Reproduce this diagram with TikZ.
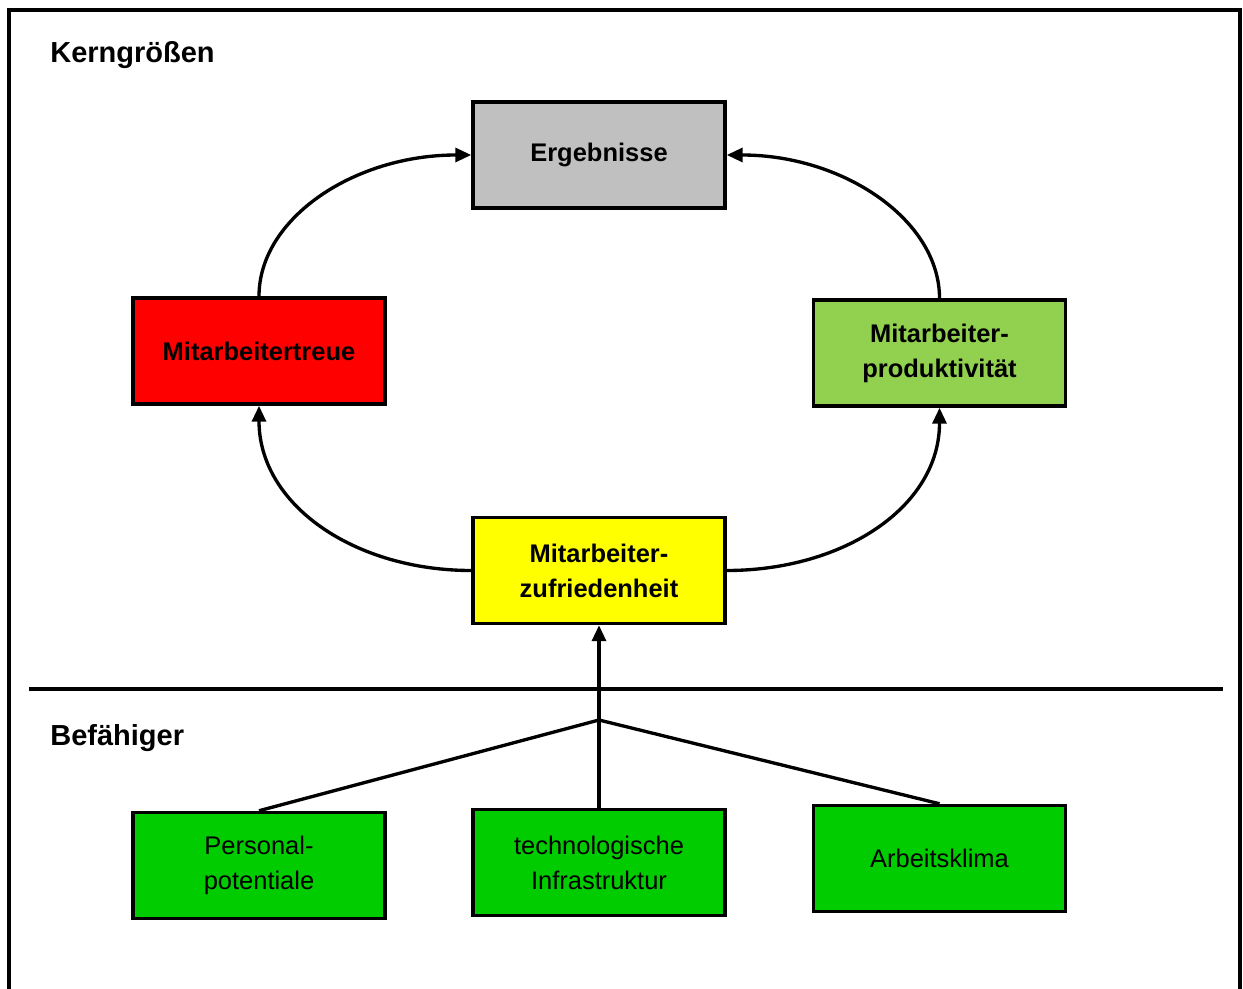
\documentclass[tikz,border=0pt]{standalone}
\usepackage{fontspec}
\setmainfont{Liberation Sans}
\usetikzlibrary{arrows.meta}
\definecolor{grayfill}{HTML}{C0C0C0}
\definecolor{redfill}{HTML}{FF0000}
\definecolor{lgreen}{HTML}{92D050}
\definecolor{yellowfill}{HTML}{FFFF00}
\definecolor{dgreen}{HTML}{00CC00}
\begin{document}
\begin{tikzpicture}[x=0.02cm,y=-0.02cm,
  box/.style={draw=black,line width=2pt,minimum width=5.04cm,minimum height=2.12cm,align=center,inner sep=0pt},
  core/.style={box,font=\fontsize{14.5}{20}\selectfont\bfseries},
  enab/.style={box,fill=dgreen,font=\fontsize{14.5}{20}\selectfont},
  head/.style={anchor=base west,font=\fontsize{16.5}{20}\selectfont\bfseries,inner sep=0pt},
  conn/.style={line width=1.9pt},
  arr/.style={conn,-{Triangle[length=3.2mm,width=2.8mm]}}]
\useasboundingbox (0,0) rectangle (1243,989);
\draw[line width=2pt] (9,10) rectangle (1240,1010);
\node[head] (kg) at (50,63) {Kerngrößen};
\node[head] (bf) at (50,745) {Befähiger};
\node[core,fill=grayfill] (erg) at (599,155) {Ergebnisse};
\node[core,fill=redfill] (treue) at (259,351) {Mitarbeitertreue};
\node[core,fill=lgreen] (prod) at (939.5,353) {Mitarbeiter-\\produktivität};
\node[core,fill=yellowfill] (zuf) at (599,570.5) {Mitarbeiter-\\zufriedenheit};
\node[enab] (pers) at (259,865.5) {Personal-\\potentiale};
\node[enab] (infra) at (599,862.5) {technologische\\Infrastruktur};
\node[enab] (klima) at (939.5,858.5) {Arbeitsklima};
\coordinate (l1) at (29,689);
\coordinate (l2) at (1223,689);
\coordinate (j) at (599,720);
\draw[conn] (l1) -- (l2);
\draw[arr] (treue.north) .. controls +(0,-78) and +(-117,0) .. (erg.west);
\draw[arr] (prod.north) .. controls +(0,-78) and +(117,0) .. (erg.east);
\draw[arr] (zuf.west) .. controls +(-117,0) and +(0,99) .. (treue.south);
\draw[arr] (zuf.east) .. controls +(117,0) and +(0,99) .. (prod.south);
\draw[arr] (infra.north) -- (zuf.south);
\draw[conn] (pers.north) -- (j) -- (klima.north);
\end{tikzpicture}
\end{document}
